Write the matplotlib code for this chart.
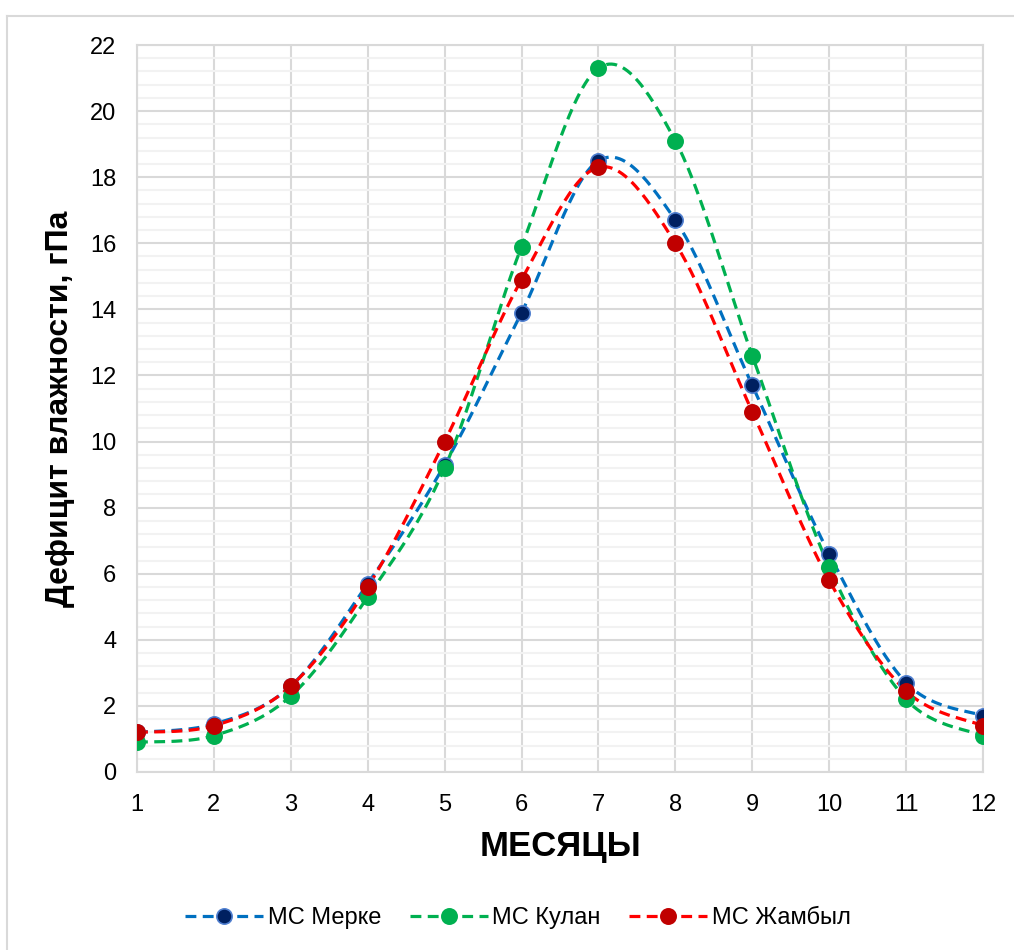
import numpy as np
import matplotlib
matplotlib.use("Agg")
import matplotlib.pyplot as plt
from matplotlib.lines import Line2D
from matplotlib.ticker import MultipleLocator

plt.rcParams['font.family'] = ['Liberation Sans', 'DejaVu Sans']

months = [1, 2, 3, 4, 5, 6, 7, 8, 9, 10, 11, 12]
merke = [1.2, 1.45, 2.6, 5.7, 9.3, 13.9, 18.5, 16.7, 11.7, 6.6, 2.7, 1.7]
kulan = [0.9, 1.1, 2.3, 5.3, 9.2, 15.9, 21.3, 19.1, 12.6, 6.2, 2.2, 1.1]
zhambyl = [1.2, 1.4, 2.6, 5.6, 10.0, 14.9, 18.3, 16.0, 10.9, 5.8, 2.45, 1.4]
labels = ['МС Мерке', 'МС Кулан', 'МС Жамбыл']
y_label = 'Дефицит влажности, гПа'
x_label = 'МЕСЯЦЫ'


def smooth(x, y, n=30):
    """Excel-like smoothed line: Catmull-Rom Bezier through the data points."""
    x = np.asarray(x, float)
    y = np.asarray(y, float)
    px = np.concatenate([[x[0]], x, [x[-1]]])
    py = np.concatenate([[y[0]], y, [y[-1]]])
    xs, ys = [], []
    t = np.linspace(0, 1, n)
    for i in range(1, len(px) - 2):
        p0 = np.array([px[i], py[i]])
        p3 = np.array([px[i + 1], py[i + 1]])
        c1 = p0 + (np.array([px[i + 1], py[i + 1]]) - np.array([px[i - 1], py[i - 1]])) / 6
        c2 = p3 - (np.array([px[i + 2], py[i + 2]]) - np.array([px[i], py[i]])) / 6
        b = ((1 - t) ** 3)[:, None] * p0 + (3 * (1 - t) ** 2 * t)[:, None] * c1 \
            + (3 * (1 - t) * t ** 2)[:, None] * c2 + (t ** 3)[:, None] * p3
        xs.append(b[:, 0])
        ys.append(b[:, 1])
    return np.concatenate(xs), np.concatenate(ys)


fig = plt.figure(figsize=(10.14, 9.5), dpi=100)
ax = fig.add_axes([137 / 1014, 1 - 772 / 950, (983 - 137) / 1014, (772 - 45) / 950])

series = [
    (merke, '#0070C0', '#002060', '#4F7FD0'),
    (kulan, '#00B050', '#00B050', '#00B050'),
    (zhambyl, '#FF0000', '#C00000', '#C00000'),
]
dash = (3.4, 2.0)
handles = []
for (vals, lc, mfc, mec), lab in zip(series, labels):
    sx, sy = smooth(months, vals)
    ax.plot(sx, sy, color=lc, lw=2.3, dashes=dash, zorder=3)
    ax.plot(months, vals, ls='none', marker='o', ms=11, mfc=mfc, mec=mec,
            mew=1.2, zorder=4)
    handles.append(Line2D([], [], color=lc, lw=2.3, dashes=dash, marker='o',
                          ms=11, mfc=mfc, mec=mec, mew=1.2))

ax.set_xlim(1, 12)
ax.set_ylim(0, 22)
ax.set_xticks(months)
ax.yaxis.set_major_locator(MultipleLocator(2))
ax.yaxis.set_minor_locator(MultipleLocator(0.4))
ax.grid(which='major', color='#D9D9D9', lw=1.5, zorder=1)
ax.grid(which='minor', axis='y', color='#F2F2F2', lw=1.5, zorder=0)
ax.set_axisbelow(True)
for s in ax.spines.values():
    s.set_color('#D9D9D9')
    s.set_linewidth(1.5)
ax.tick_params(which='both', length=0, labelsize=17, colors='#000000')
ax.tick_params(axis='y', pad=15)
ax.tick_params(axis='x', pad=16)

ax.set_ylabel(y_label, fontsize=23, fontweight='bold', labelpad=11)
ax.set_xlabel(x_label, fontsize=25, fontweight='bold', labelpad=10)

fig.legend(handles, labels, loc='center', bbox_to_anchor=(518 / 1014, 1 - 918 / 950),
           ncol=3, frameon=False, fontsize=17, handlelength=3.3,
           columnspacing=1.2, handletextpad=0.2)

fig.add_artist(Line2D([7 / 1014, 1], [1 - 16 / 950, 1 - 16 / 950], color='#D9D9D9', lw=1.5))
fig.add_artist(Line2D([7 / 1014, 7 / 1014], [1 - 16 / 950, 0], color='#D9D9D9', lw=1.5))

fig.savefig('out.png', dpi=100, facecolor='white')
